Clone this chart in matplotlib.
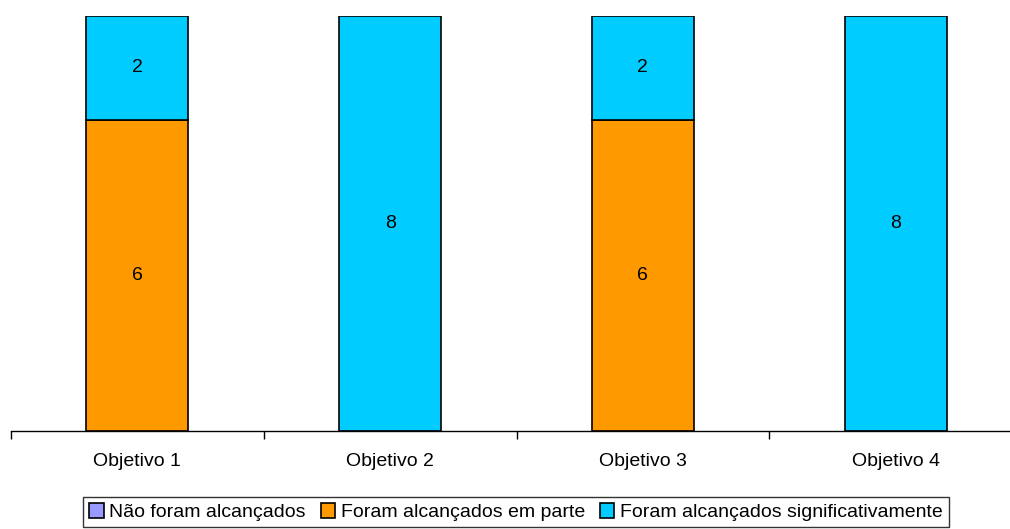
import matplotlib.pyplot as plt
import numpy as np
from matplotlib.patches import Patch

plt.rcParams['font.family'] = ['Liberation Sans', 'DejaVu Sans']

categories = ["Objetivo 1", "Objetivo 2", "Objetivo 3", "Objetivo 4"]
nao_alcancados = [0, 0, 0, 0]
em_parte = [6, 0, 6, 0]
significativamente = [2, 8, 2, 8]

series = [
    ("Não foram alcançados", nao_alcancados, "#9999FF"),
    ("Foram alcançados em parte", em_parte, "#FF9900"),
    ("Foram alcançados significativamente", significativamente, "#00CCFF"),
]

fig = plt.figure(figsize=(10.10, 5.29), dpi=100)
ax = fig.add_axes([11 / 1010, (529 - 431) / 529, 1011 / 1010, 415 / 529])

x = np.arange(len(categories))
bottom = np.zeros(len(categories))
for label, vals, color in series:
    vals = np.array(vals, dtype=float)
    ax.bar(x, vals, width=0.403, bottom=bottom, color=color,
           edgecolor="black", linewidth=1.2, label=label)
    for xi, b, v in zip(x, bottom, vals):
        if v > 0:
            ax.text(xi, b + v / 2, f"{v:g}", ha="center", va="center", fontsize=14)
    bottom += vals

ax.set_xlim(-0.5, len(categories) - 0.5)
ax.set_ylim(0, 8)
for s in ["top", "right", "left"]:
    ax.spines[s].set_visible(False)
ax.spines["bottom"].set_linewidth(1.0)
ax.set_yticks([])
ax.set_xticks(x)
ax.set_xticklabels(categories, fontsize=14)
ax.tick_params(axis="x", which="major", length=0, pad=16)
ax.set_xticks(np.arange(-0.5, len(categories)), minor=True)
ax.tick_params(axis="x", which="minor", length=6, width=1.0, direction="out")

handles = [Patch(facecolor=c, edgecolor="black", linewidth=1.2, label=l) for l, _, c in series]
leg = fig.legend(handles=handles, loc="lower center", bbox_to_anchor=(516 / 1010, 0.0),
                 ncol=3, fontsize=14, frameon=True, fancybox=False,
                 handlelength=0.75, handleheight=0.75, handletextpad=0.3,
                 columnspacing=0.75, borderpad=0.3, borderaxespad=0.1)
leg.get_frame().set_edgecolor("black")
leg.get_frame().set_linewidth(1.0)

fig.savefig("out.png", dpi=100)
